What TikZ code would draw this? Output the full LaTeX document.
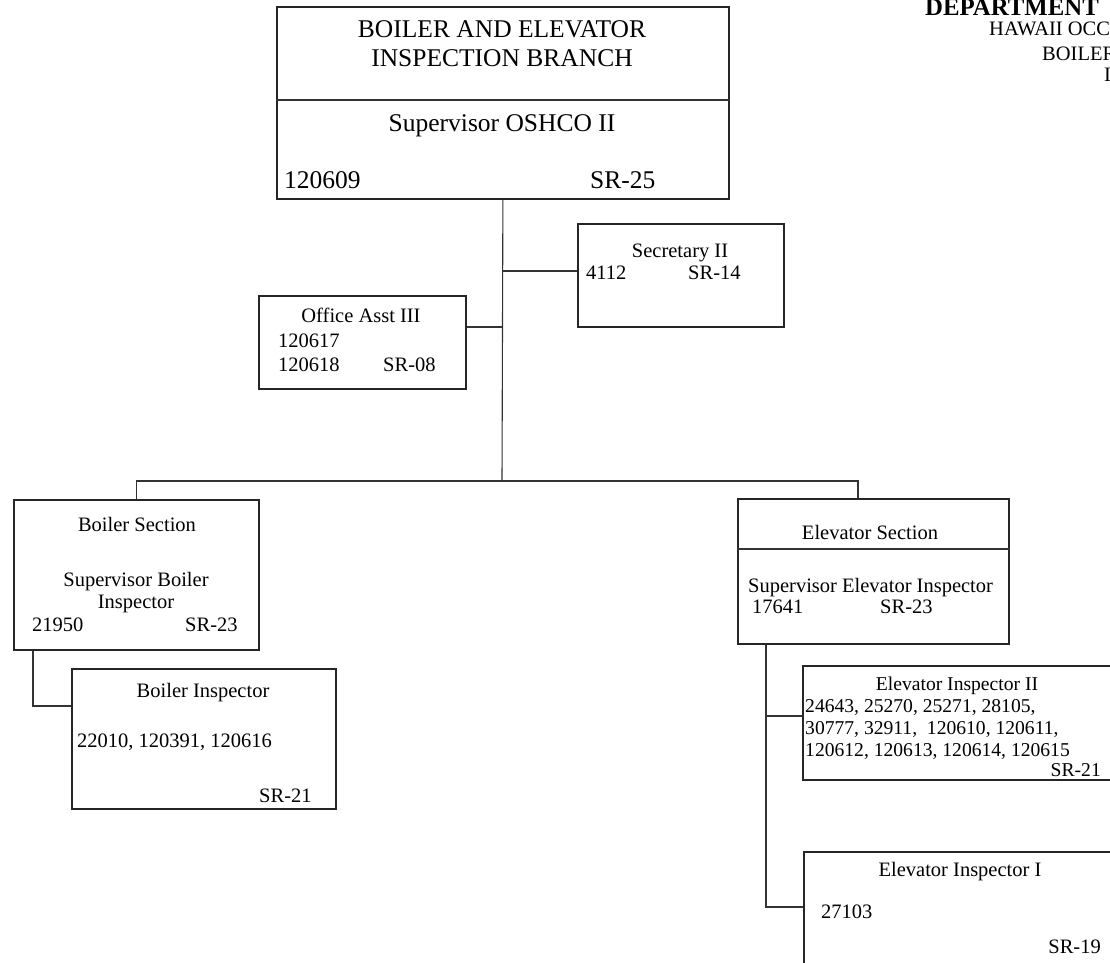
\documentclass[tikz,border=0pt]{standalone}
\usepackage{fontspec}
\setmainfont{Liberation Serif}
\begin{document}
\begin{tikzpicture}[x=1pt,y=-1pt,
  box/.style={draw=black!85, line width=1.8pt, rectangle, inner sep=0pt, anchor=north west},
  conn/.style={draw=black!80, line width=1.1pt},
  big/.style={inner sep=0pt, font=\fontsize{25.5}{28}\selectfont},
  sm/.style={inner sep=0pt, font=\fontsize{20.5}{23}\selectfont},
  smb/.style={inner sep=0pt, font=\fontsize{19.6}{22}\selectfont},
  hdr/.style={inner sep=0pt, font=\fontsize{20.5}{22}\selectfont, anchor=base west}]
\useasboundingbox (0,0) rectangle (1110,962);
\clip (0,0) rectangle (1110,962);
\fill[white] (0,0) rectangle (1110,962);

% header (cropped)
\node[inner sep=0pt, font=\bfseries\fontsize{24.8}{26}\selectfont, anchor=base west] (h1) at (925,15) {DEPARTMENT};
\node[hdr] (h2) at (989,35) {HAWAII OCC};
\node[hdr] (h3) at (1042,60) {BOILER};
\node[hdr] (h4) at (1104,81) {I};

% boxes
\node[box, minimum width=452pt, minimum height=192pt] (top) at (276,6) {};
\coordinate (tdl) at (276,100);
\draw[line width=1.4pt, black!80] (tdl) -- (tdl -| top.east);
\node[big, anchor=base] (t1) at (502,37) {BOILER AND ELEVATOR};
\node[big, anchor=base] (t2) at (502,66) {INSPECTION BRANCH};
\node[big, anchor=base] (t3) at (502,131) {Supervisor OSHCO II};
\node[big, anchor=base west] (t4) at (284,188) {120609};
\node[big, anchor=base west] (t5) at (590,188) {SR-25};

\node[box, minimum width=206pt, minimum height=103pt] (sec) at (577,223) {};
\node[sm, anchor=base] (s1) at (680,257) {Secretary II};
\node[sm, anchor=base west] (s2) at (586,279) {4112};
\node[sm, anchor=base west] (s3) at (688,279) {SR-14};

\node[box, minimum width=207pt, minimum height=93pt] (oa) at (258,295) {};
\node[sm, anchor=base] (o1) at (361,322) {Office Asst III};
\node[sm, anchor=base west] (o2) at (278,347) {120617};
\node[sm, anchor=base west] (o3) at (278,371) {120618};
\node[sm, anchor=base west] (o4) at (383,371) {SR-08};

\node[box, minimum width=245pt, minimum height=150pt] (bs) at (13,499) {};
\node[sm, anchor=base] (b1) at (137,531) {Boiler Section};
\node[sm, anchor=base] (b2) at (136,586) {Supervisor Boiler};
\node[sm, anchor=base] (b3) at (136,608) {Inspector};
\node[sm, anchor=base west] (b4) at (32,631) {21950};
\node[sm, anchor=base west] (b5) at (185,631) {SR-23};

\node[box, minimum width=264pt, minimum height=140pt] (bi) at (71,668) {};
\node[sm, anchor=base] (i1) at (203,697) {Boiler Inspector};
\node[sm, anchor=base west] (i2) at (77,747) {22010, 120391, 120616};
\node[sm, anchor=base west] (i3) at (259,802) {SR-21};

\node[box, minimum width=271pt, minimum height=145pt] (es) at (737,498) {};
\coordinate (edl) at (737,549);
\draw[line width=1.4pt, black!80] (edl) -- (edl -| es.east);
\node[sm, anchor=base] (e1) at (870,539) {Elevator Section};
\node[sm, anchor=base west] (e2) at (748,592) {Supervisor Elevator Inspector};
\node[sm, anchor=base west] (e3) at (752,613) {17641};
\node[sm, anchor=base west] (e4) at (880,613) {SR-23};

\node[box, minimum width=320pt, minimum height=114pt] (ei2) at (802,665) {};
\node[smb, anchor=base] (f1) at (957,690) {Elevator Inspector II};
\node[smb, anchor=base west] (f2) at (805,712) {24643, 25270, 25271, 28105,};
\node[smb, anchor=base west] (f3) at (805,734) {30777, 32911, \ 120610, 120611,};
\node[smb, anchor=base west] (f4) at (805,756) {120612, 120613, 120614, 120615};
\node[smb, anchor=base east] (f5) at (1101,776) {SR-21};

\node[box, minimum width=320pt, minimum height=140pt] (ei1) at (803,851) {};
\node[sm, anchor=base] (g1) at (960,876) {Elevator Inspector I};
\node[sm, anchor=base west] (g2) at (821,918) {27103};
\node[sm, anchor=base east] (g3) at (1101,953) {SR-19};

% connectors
\coordinate (j) at (502,481);
\coordinate (secj) at (502,271);
\coordinate (oaj) at (502,327);
\coordinate (esx) at (858,0);
\coordinate (bsx) at (33,706);
\coordinate (elx) at (766,0);
\coordinate (e2y) at (0,716);
\coordinate (e1y) at (0,907);

\draw[conn] (top.south) -- (j);
\draw[conn] (secj) -- (secj -| sec.west);
\draw[conn] (oaj) -- (oaj -| oa.east);
\draw[conn] (bs.north) |- (j);
\draw[conn] (j) -| (es.north -| esx);
\draw[conn] (bs.south -| bsx) |- (bi.west |- bsx);
\draw[conn] (es.south -| elx) |- (ei1.west |- e1y);
\draw[conn] (elx |- e2y) -- (ei2.west |- e2y);
\end{tikzpicture}
\end{document}
